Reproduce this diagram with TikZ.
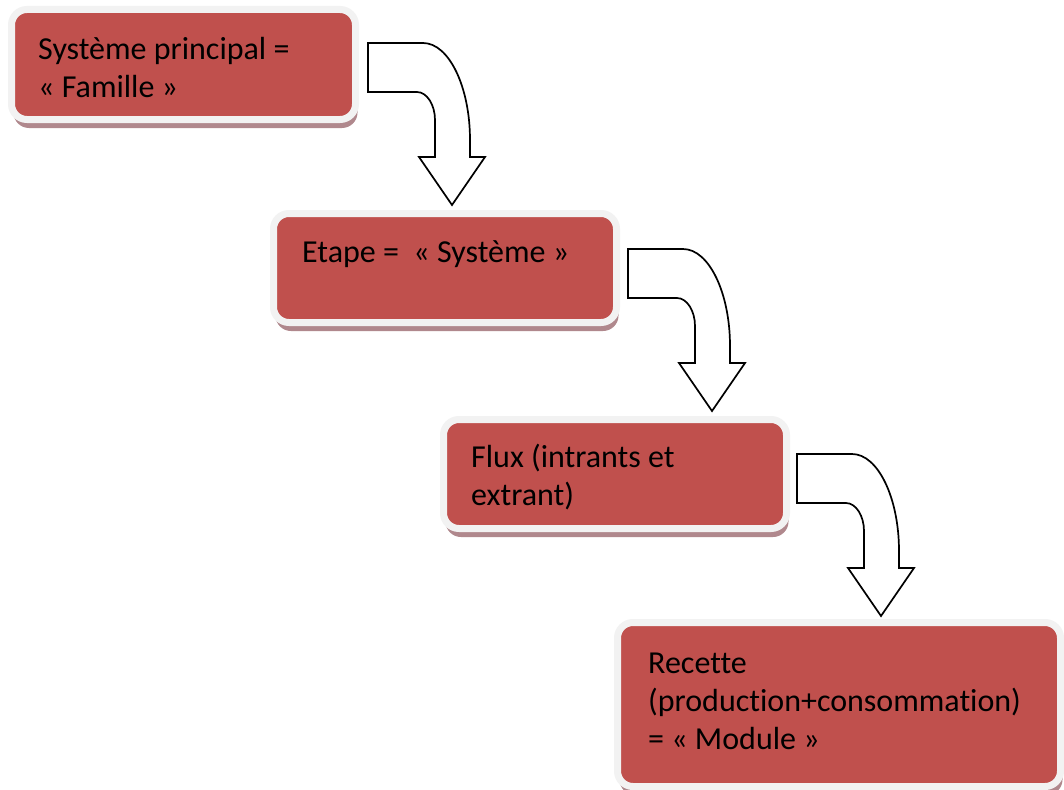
\documentclass[tikz,border=0pt]{standalone}
\usepackage{fontspec}
\setmainfont{Carlito}[Ligatures={NoCommon}]
\usetikzlibrary{shadows}
\definecolor{boxred}{HTML}{C0504D}
\definecolor{framegray}{HTML}{F2F2F2}
\definecolor{shadowpink}{RGB}{176,136,141}
\tikzset{
  redbox/.style={rectangle, rounded corners=15.5pt, fill=boxred, draw=framegray,
    line width=7pt, inner sep=0pt, outer sep=0pt,
    drop shadow={shadow xshift=2pt, shadow yshift=-8.5pt, fill=shadowpink, opacity=1}},
  boxtext/.style={anchor=base west, inner sep=0pt, text=black,
    font=\fontsize{32}{38}\selectfont},
  bentarrow/.pic={
    \draw[fill=white, draw=black, line width=1.7pt, line join=miter]
      (0,0) -- (55,0) .. controls (81,0) and (102,44) .. (102,97) -- (102,114)
      -- (117,114) -- (84,162) -- (51,114) -- (67,114) -- (67,77)
      .. controls (67,62) and (59,49) .. (49,49) -- (0,49) -- cycle;
  }
}
\begin{document}
\begin{tikzpicture}[x=1pt,y=-1pt]
\useasboundingbox[fill=white] (0,0) rectangle (1064,789);
% boxes
\node[redbox, minimum width=344pt, minimum height=110pt] (b1) at (183.5,64.5) {};
\node[redbox, minimum width=343pt, minimum height=109pt] (b2) at (445,268) {};
\node[redbox, minimum width=343pt, minimum height=109pt] (b3) at (615,474) {};
\node[redbox, minimum width=443pt, minimum height=164pt] (b4) at (839,704.5) {};
% texts
\node[boxtext] (t1) at (38,60) {\vtop{\hbox{Système principal =}\hbox{« Famille »}}};
\node[boxtext] (t2) at (302,262) {Etape =\ \ « Système »};
\node[boxtext] (t3) at (471,467) {\vtop{\hbox{Flux (intrants et}\hbox{extrant)}}};
\node[boxtext] (t4) at (648,673) {\vtop{\hbox{Recette}\hbox{(production+consommation)}\hbox{= « Module »}}};
% arrows
\coordinate (a1) at (368,43);
\coordinate (a2) at (628,249);
\coordinate (a3) at (797,454);
\pic at (a1) {bentarrow};
\pic at (a2) {bentarrow};
\pic at (a3) {bentarrow};
\end{tikzpicture}
\end{document}
